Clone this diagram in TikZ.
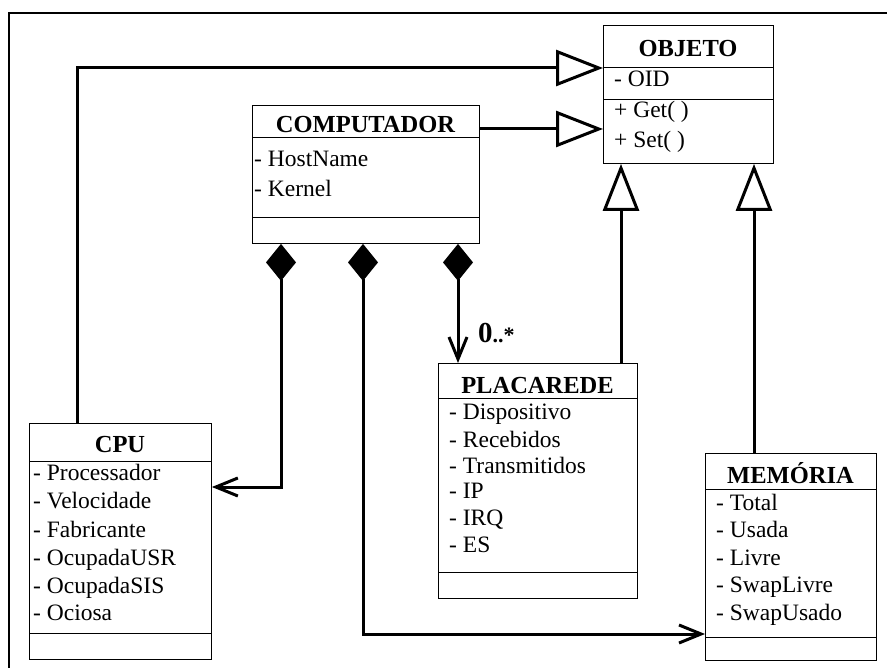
\documentclass[tikz,border=0pt]{standalone}
\usepackage{fontspec}
\setmainfont{Liberation Serif}
\usetikzlibrary{arrows.meta,calc}
\begin{document}
\begin{tikzpicture}[x=1pt,y=-1pt,
  box/.style={draw, line width=0.9pt, rectangle, anchor=north west, inner sep=0pt},
  sepline/.style={line width=0.9pt},
  ttl/.style={font=\fontsize{24.5}{28}\selectfont\bfseries, anchor=base, inner sep=0pt},
  attr/.style={font=\fontsize{23.5}{28}\selectfont, anchor=base west, inner sep=0pt},
  mult/.style={font=\fontsize{22}{28}\selectfont\bfseries, anchor=base west, inner sep=0pt},
  conn/.style={line width=3pt},
  gen/.style={conn, -{Triangle[open, length=47pt, width=36pt, line width=3pt]}},
  comp/.style={conn, {Diamond[length=37pt, width=30pt]}-{Straight Barb[length=22pt, width=18pt, line width=3pt]}},
]
\useasboundingbox (0,0) rectangle (887,668);
\draw[line width=1.8pt] (9,668) -- (9,13) -- (887,13);

% helper coordinates
\coordinate (y68) at (0,68);
\coordinate (y129) at (0,129);
\coordinate (y487) at (0,487);
\coordinate (y634) at (0,634);
\coordinate (x77) at (77,0);
\coordinate (x281) at (281,0);
\coordinate (x363) at (363,0);
\coordinate (x458) at (458,0);
\coordinate (x621) at (621,0);
\coordinate (x754) at (754,0);

% OBJETO
\node[box, minimum width=170pt, minimum height=138pt] (obj) at (603,25) {};
\draw[sepline] ($(obj.north west)+(0,42)$) -- ($(obj.north east)+(0,42)$);
\draw[sepline] ($(obj.north west)+(0,74)$) -- ($(obj.north east)+(0,74)$);
\node[ttl] (objt) at (688,57) {OBJETO};
\node[attr] (obja1) at (614,87) {- OID};
\node[attr] (objm1) at (614,118) {+ Get( )};
\node[attr] (objm2) at (614,148) {+ Set( )};

% COMPUTADOR
\node[box, minimum width=227pt, minimum height=138pt] (comp) at (252,105) {};
\draw[sepline] ($(comp.north west)+(0,32)$) -- ($(comp.north east)+(0,32)$);
\draw[sepline] ($(comp.north west)+(0,112)$) -- ($(comp.north east)+(0,112)$);
\node[ttl] (compt) at (365.5,133) {COMPUTADOR};
\node[attr] (compa1) at (254,167) {- HostName};
\node[attr] (compa2) at (254,197) {- Kernel};

% CPU
\node[box, minimum width=182pt, minimum height=236pt] (cpu) at (29,423) {};
\draw[sepline] ($(cpu.north west)+(0,38)$) -- ($(cpu.north east)+(0,38)$);
\draw[sepline] ($(cpu.north west)+(0,210)$) -- ($(cpu.north east)+(0,210)$);
\node[ttl] (cput) at (120,453) {CPU};
\node[attr] (cpua1) at (33,480) {- Processador};
\node[attr] (cpua2) at (33,508) {- Velocidade};
\node[attr] (cpua3) at (33,537) {- Fabricante};
\node[attr] (cpua4) at (33,565) {- OcupadaUSR};
\node[attr] (cpua5) at (33,593) {- OcupadaSIS};
\node[attr] (cpua6) at (33,620) {- Ociosa};

% PLACAREDE
\node[box, minimum width=199pt, minimum height=235pt] (pla) at (438,363) {};
\draw[sepline] ($(pla.north west)+(0,35)$) -- ($(pla.north east)+(0,35)$);
\draw[sepline] ($(pla.north west)+(0,209)$) -- ($(pla.north east)+(0,209)$);
\node[ttl] (plat) at (537.5,394) {PLACAREDE};
\node[attr] (plaa1) at (449,420) {- Dispositivo};
\node[attr] (plaa2) at (449,447) {- Recebidos};
\node[attr] (plaa3) at (449,473) {- Transmitidos};
\node[attr] (plaa4) at (449,498) {- IP};
\node[attr] (plaa5) at (449,525) {- IRQ};
\node[attr] (plaa6) at (449,552) {- ES};

% MEMORIA
\node[box, minimum width=171pt, minimum height=207pt] (mem) at (705,453) {};
\draw[sepline] ($(mem.north west)+(0,36)$) -- ($(mem.north east)+(0,36)$);
\draw[sepline] ($(mem.north west)+(0,184)$) -- ($(mem.north east)+(0,184)$);
\node[ttl] (memt) at (790.5,483) {MEMÓRIA};
\node[attr] (mema1) at (716,510) {- Total};
\node[attr] (mema2) at (716,537) {- Usada};
\node[attr] (mema3) at (716,565) {- Livre};
\node[attr] (mema4) at (716,592) {- SwapLivre};
\node[attr] (mema5) at (716,620) {- SwapUsado};

% generalizations
\draw[gen] (cpu.north -| x77) |- (obj.west |- y68);
\draw[gen] (comp.east |- y129) -- (obj.west |- y129);
\draw[gen] (pla.north -| x621) -- (obj.south -| x621);
\draw[gen] (mem.north -| x754) -- (obj.south -| x754);

% compositions
\draw[comp] (comp.south -| x281) |- (cpu.east |- y487);
\draw[comp] (comp.south -| x363) |- (mem.west |- y634);
\draw[comp] (comp.south -| x458) -- (pla.north -| x458);
\node[mult] (m1) at (478,343) {{\fontsize{29}{30}\selectfont 0}..*};
\end{tikzpicture}
\end{document}
